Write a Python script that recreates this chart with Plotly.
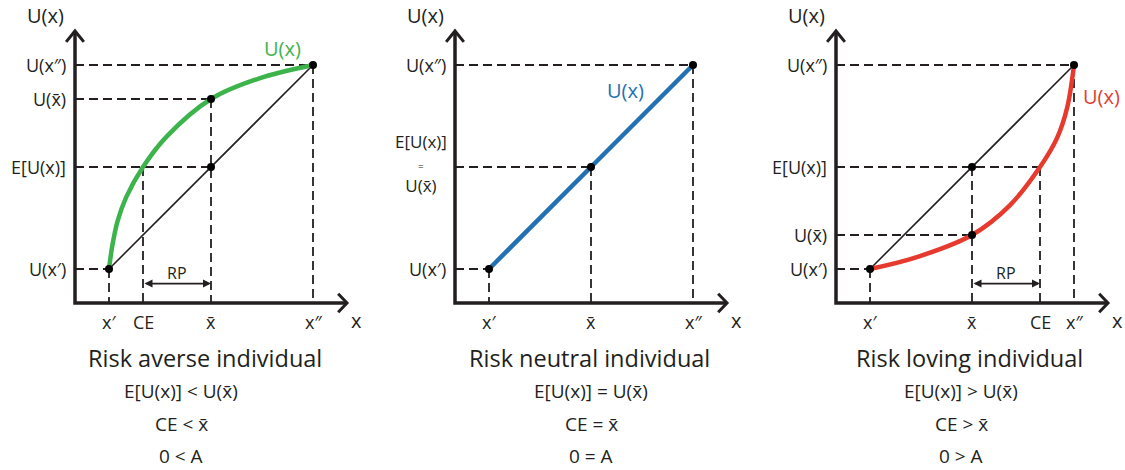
import plotly.graph_objects as go

# ---------------- data ----------------
# Risk averse (concave) utility curve
averse_x = [1, 1.1, 1.25, 1.5, 2, 2.7, 4, 5.4, 7]
averse_u = [1, 1.7, 2.4, 3.1, 4, 4.9, 6, 6.6, 7]
# Risk neutral (linear) utility
neutral_x = [1, 4, 7]
neutral_u = [1, 4, 7]
# Risk loving (convex) utility curve
loving_x = [1, 2.38, 4, 5.12, 6, 6.5, 6.8, 7]
loving_u = [1, 1.35, 2, 2.88, 4, 4.85, 5.75, 7]

# chord between the two outcomes
chord_x = [1, 7]
chord_u = [1, 7]

# tick positions / labels per panel
averse_xt = [1, 2, 4, 7]
averse_xl = ["x′", "CE", "x̄", "x″"]
averse_ut = [1, 4, 6, 7]
averse_ul = ["U(x′)", "E[U(x)]", "U(x̄)", "U(x″)"]

neutral_xt = [1, 4, 7]
neutral_xl = ["x′", "x̄", "x″"]
neutral_ut = [1, 7]
neutral_ul = ["U(x′)", "U(x″)"]

loving_xt = [1, 4, 6, 7]
loving_xl = ["x′", "x̄", "CE", "x″"]
loving_ut = [1, 2, 4, 7]
loving_ul = ["U(x′)", "U(x̄)", "E[U(x)]", "U(x″)"]

# guide lines: horizontal (to x) at level u, vertical (from u) at x
averse_h = [(7, 7), (4, 6), (4, 4), (1, 1)]
averse_v = [(7, 7), (4, 6), (2, 4), (1, 1)]
neutral_h = [(7, 7), (4, 4), (1, 1)]
neutral_v = [(7, 7), (4, 4), (1, 1)]
loving_h = [(7, 7), (6, 4), (4, 2), (1, 1)]
loving_v = [(7, 7), (4, 4), (6, 4), (1, 1)]

# marked points
averse_pts = [(1, 1), (4, 6), (4, 4), (7, 7)]
neutral_pts = [(1, 1), (4, 4), (7, 7)]
loving_pts = [(1, 1), (4, 4), (4, 2), (7, 7)]

# risk premium spans
averse_rp = (2, 4)
loving_rp = (4, 6)

titles = ["Risk averse individual", "Risk neutral individual", "Risk loving individual"]
cond1 = ["E[U(x)] < U(x̄)", "E[U(x)] = U(x̄)", "E[U(x)] > U(x̄)"]
cond2 = ["CE < x̄", "CE = x̄", "CE > x̄"]
cond3 = ["0 < A", "0 = A", "0 > A"]

GREEN = "#3cb44b"
BLUE = "#2271b3"
RED = "#e63a2e"
INK = "#231f20"
FONT = "Open Sans"

fig = go.Figure()
annots = []

# pixel geometry: 34 px per unit, origins per panel
ranges_x = [[-75 / 34, 300 / 34], [-80 / 34, 295 / 34], [-86 / 34, 289 / 34]]
range_y = [-167 / 34, 303 / 34]

panels = [
    dict(cx=averse_x, cu=averse_u, col=GREEN, chord=True, xt=averse_xt, xl=averse_xl,
         ut=averse_ut, ul=averse_ul, h=averse_h, v=averse_v, pts=averse_pts, rp=averse_rp,
         lab=(6.09, 7.5), tx=3.82, fx=3.12),
    dict(cx=neutral_x, cu=neutral_u, col=BLUE, chord=False, xt=neutral_xt, xl=neutral_xl,
         ut=neutral_ut, ul=neutral_ul, h=neutral_h, v=neutral_v, pts=neutral_pts, rp=None,
         lab=(5.0, 6.26), tx=3.97, fx=4.0),
    dict(cx=loving_x, cu=loving_u, col=RED, chord=True, xt=loving_xt, xl=loving_xl,
         ut=loving_ut, ul=loving_ul, h=loving_h, v=loving_v, pts=loving_pts, rp=loving_rp,
         lab=(7.82, 6.06), tx=3.94, fx=3.68),
]

for i, p in enumerate(panels):
    sx = "" if i == 0 else str(i + 1)
    xa, ya = "x" + sx, "y" + sx

    # dashed guides
    hx, hy = [], []
    for (gx, gu) in p["h"]:
        hx += [0, gx, None]
        hy += [gu, gu, None]
    vx, vy = [], []
    for (gx, gu) in p["v"]:
        vx += [gx, gx, None]
        vy += [gu, 0, None]
    for gx_, gy_ in ((hx, hy), (vx, vy)):
        fig.add_trace(go.Scatter(x=gx_, y=gy_, mode="lines", xaxis=xa, yaxis=ya,
                                 line=dict(color=INK, width=1.8, dash="9px,5px"),
                                 hoverinfo="skip", showlegend=False))
    # chord
    if p["chord"]:
        fig.add_trace(go.Scatter(x=chord_x, y=chord_u, mode="lines", xaxis=xa, yaxis=ya,
                                 line=dict(color=INK, width=1.6),
                                 hoverinfo="skip", showlegend=False))
    # utility curve
    fig.add_trace(go.Scatter(x=p["cx"], y=p["cu"], mode="lines", xaxis=xa, yaxis=ya,
                             line=dict(color=p["col"], width=4.5, shape="spline", smoothing=1),
                             hoverinfo="skip", showlegend=False))
    # axes
    fig.add_trace(go.Scatter(x=[0, 0, 8], y=[8, 0, 0], mode="lines", xaxis=xa, yaxis=ya,
                             line=dict(color=INK, width=3.5),
                             hoverinfo="skip", showlegend=False))
    fig.add_trace(go.Scatter(x=[-0.26, 0, 0.26], y=[7.68, 8, 7.68], mode="lines",
                             xaxis=xa, yaxis=ya, line=dict(color=INK, width=3),
                             hoverinfo="skip", showlegend=False))
    fig.add_trace(go.Scatter(x=[7.74, 8, 7.74], y=[0.27, 0, -0.27], mode="lines",
                             xaxis=xa, yaxis=ya, line=dict(color=INK, width=3),
                             hoverinfo="skip", showlegend=False))
    # points
    fig.add_trace(go.Scatter(x=[q[0] for q in p["pts"]], y=[q[1] for q in p["pts"]],
                             mode="markers", xaxis=xa, yaxis=ya,
                             marker=dict(color="black", size=8),
                             hoverinfo="skip", showlegend=False))

    def txt(x, y, t, size=18, color=INK, xanchor="center", yanchor="middle"):
        annots.append(dict(x=x, y=y, xref=xa, yref=ya, text=t, showarrow=False,
                           xanchor=xanchor, yanchor=yanchor,
                           font=dict(family=FONT, size=size, color=color)))

    # tick labels
    for xv, xlab in zip(p["xt"], p["xl"]):
        txt(xv, -0.56, xlab)
    for uv, ulab in zip(p["ut"], p["ul"]):
        txt(-0.2, uv, ulab, xanchor="right")
    if i == 1:
        txt(-1.0, 4.1, "E[U(x)]<br><span style='font-size:10px'>=</span><br>U(x̄)", size=17)
    # axis titles
    txt(-0.88, 8.47, "U(x)", size=20)
    txt(8.27, -0.52, "x", size=20)
    # curve label
    txt(p["lab"][0], p["lab"][1], "U(x)", size=20, color=p["col"])
    # RP arrow
    if p["rp"] is not None:
        a0, a1 = p["rp"]
        annots.append(dict(x=a1, y=0.57, ax=a0, ay=0.57, xref=xa, yref=ya,
                           axref=xa, ayref=ya, text="", showarrow=True,
                           arrowhead=2, startarrowhead=2, arrowside="end+start",
                           arrowsize=1, startarrowsize=1, arrowwidth=1.6,
                           arrowcolor=INK, standoff=0, startstandoff=0))
        txt((a0 + a1) / 2, 0.88, "RP", size=16)
    # bottom text
    txt(p["tx"], -1.62, titles[i], size=23.5)
    txt(p["fx"], -2.6, cond1[i], size=19)
    txt(p["fx"], -3.55, cond2[i], size=19)
    txt(p["fx"], -4.5, cond3[i], size=19)

layout = dict(width=1125, height=470, margin=dict(l=0, r=0, t=0, b=0),
              paper_bgcolor="white", plot_bgcolor="white", showlegend=False,
              annotations=annots)
doms = [[0, 1 / 3], [1 / 3, 2 / 3], [2 / 3, 1]]
for i in range(3):
    sx = "" if i == 0 else str(i + 1)
    layout["xaxis" + sx] = dict(domain=doms[i], range=ranges_x[i], visible=False,
                                fixedrange=True, anchor="y" + sx)
    layout["yaxis" + sx] = dict(domain=[0, 1], range=range_y, visible=False,
                                fixedrange=True, anchor="x" + sx)
fig.update_layout(**layout)
fig.write_html("out.html", config={"displayModeBar": False},
               post_script="document.body.style.margin='0px';")
